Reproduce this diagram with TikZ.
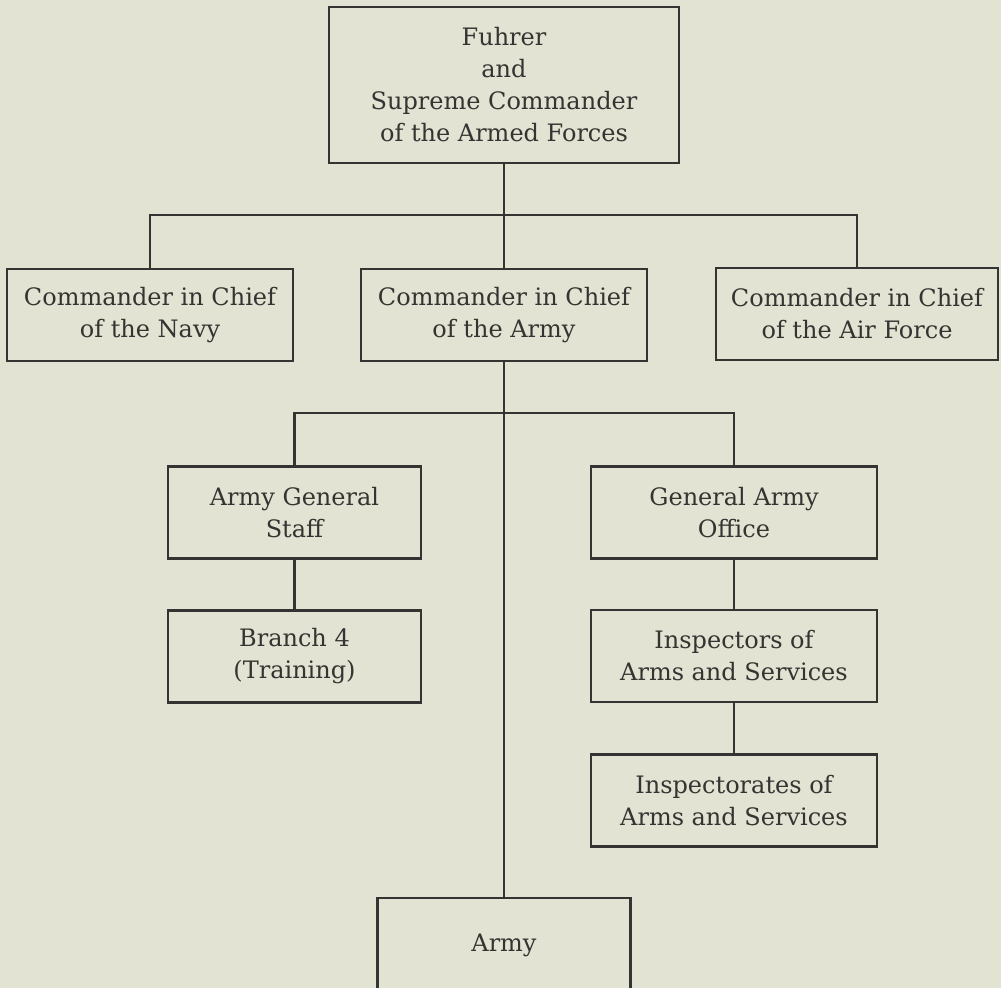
\documentclass[tikz,border=0pt]{standalone}
\usepackage{fontspec}
\setmainfont{DejaVu Serif}
\definecolor{paper}{RGB}{226,227,210}
\definecolor{ink}{RGB}{52,52,50}

\begin{document}
\begin{tikzpicture}[x=0.5pt,y=-0.5pt,
    box/.style={draw=ink,line width=1.3pt,align=center,text=ink,inner sep=0pt,
      minimum width=143pt,minimum height=46pt,font=\fontsize{12}{16}\selectfont},
    narrowbox/.style={box,minimum width=126.5pt},
    link/.style={draw=ink,line width=1.3pt}]
      \fill[paper] (0,0) rectangle (1001,988);
      \useasboundingbox (0,0) rectangle (1001,988);

      \node[box,minimum width=175pt,minimum height=78pt] (fuhrer) at (504,85) {Fuhrer\\and\\Supreme Commander\\of the Armed Forces};

      \node[box] (navy) at (150,315) {Commander in Chief\\of the Navy};
      \node[box] (cicarmy) at (504,315) {Commander in Chief\\of the Army};
      \node[box,minimum width=141pt] (airforce) at (857,314) {Commander in Chief\\of the Air Force};

      \node[narrowbox] (genstaff) at (294.5,512.5) {Army General\\Staff};
      \node[box] (armyoffice) at (734,512.5) {General Army\\Office};
      \node[narrowbox] (branch) at (294.5,656.5) {Branch 4\\(Training)};
      \node[box] (inspectors) at (734,656) {Inspectors of\\Arms and Services};
      \node[box] (inspectorates) at (734,800.5) {Inspectorates of\\Arms and Services};
      \node[narrowbox,minimum height=47pt] (army) at (504,945) {Army};

      \coordinate (topjoin) at (504,215);
      \coordinate (lowjoin) at (504,413);

      \draw[link] (fuhrer.south) -- (topjoin);
      \draw[link] (navy.north) |- (topjoin) -| (airforce.north);
      \draw[link] (topjoin) -- (cicarmy.north);
      \draw[link] (cicarmy.south) -- (army.north);
      \draw[link] (genstaff.north) |- (lowjoin) -| (armyoffice.north);
      \draw[link] (genstaff.south) -- (branch.north);
      \draw[link] (armyoffice.south) -- (inspectors.north);
      \draw[link] (inspectors.south) -- (inspectorates.north);
    \end{tikzpicture}
\end{document}
